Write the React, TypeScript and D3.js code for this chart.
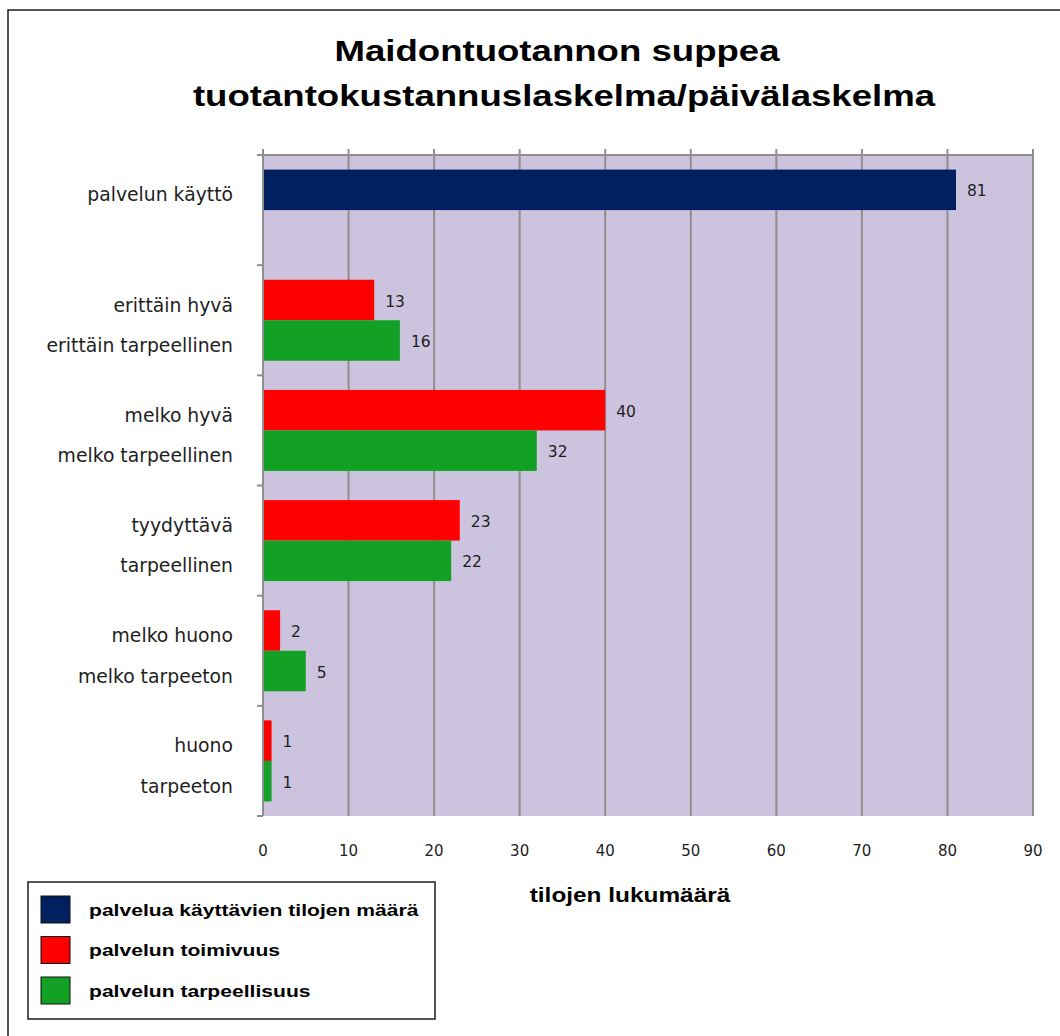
import React from "react";
import * as d3 from "d3";

const titleLines = ["Maidontuotannon suppea", "tuotantokustannuslaskelma/päivälaskelma"];
const topLabels = ["palvelun käyttö", "erittäin hyvä", "melko hyvä", "tyydyttävä", "melko huono", "huono"];
const bottomLabels = ["", "erittäin tarpeellinen", "melko tarpeellinen", "tarpeellinen", "melko tarpeeton", "tarpeeton"];
const kayttoValues: (number | null)[] = [81, null, null, null, null, null];
const toimivuusValues: (number | null)[] = [null, 13, 40, 23, 2, 1];
const tarpeellisuusValues: (number | null)[] = [null, 16, 32, 22, 5, 1];
const xTicks = [0, 10, 20, 30, 40, 50, 60, 70, 80, 90];
const axisTitle = "tilojen lukumäärä";
const legendNames = ["palvelua käyttävien tilojen määrä", "palvelun toimivuus", "palvelun tarpeellisuus"];
const seriesColors = ["#002060", "#ff0000", "#12a025"];

const W = 1060;
const H = 1036;
const SX = 1.22;
const PLOT = { left: 263, right: 1033, top: 155, bottom: 816 };
const GRID = "#8f8f8f";
const TXT = "#1e1e1e";
const SANS = "'DejaVu Sans', Verdana, sans-serif";
const ARIAL = "'Liberation Sans', Arial, sans-serif";

export default function App() {
  const x = d3.scaleLinear().domain([0, 90]).range([PLOT.left, PLOT.right]);
  const groups = d3.range(topLabels.length);
  const yGroup = d3.scaleBand<number>().domain(groups).range([PLOT.top, PLOT.bottom]).padding(0);
  const slot = d3
    .scaleBand<number>()
    .domain([0, 1])
    .range([0, yGroup.bandwidth()])
    .paddingInner(0)
    .paddingOuter(0.36);
  const bh = slot.bandwidth();

  type Bar = { g: number; s: number; v: number; color: string };
  const bars: Bar[] = [];
  groups.forEach((g) => {
    if (kayttoValues[g] != null) bars.push({ g, s: 0, v: kayttoValues[g] as number, color: seriesColors[0] });
    if (toimivuusValues[g] != null) bars.push({ g, s: 0, v: toimivuusValues[g] as number, color: seriesColors[1] });
    if (tarpeellisuusValues[g] != null) bars.push({ g, s: 1, v: tarpeellisuusValues[g] as number, color: seriesColors[2] });
  });
  const barY = (g: number, s: number) => (yGroup(g) as number) + (slot(s) as number);

  const boundaries = groups.map((g) => yGroup(g) as number).concat([PLOT.bottom]);

  return (
    <svg
      width={W}
      height={H}
      style={{ position: "absolute", left: 0, top: 0, background: "#fff" }}
    >
      <rect x={8} y={10} width={W + 20} height={H + 20} fill="#fff" stroke="#2a2a2a" strokeWidth={1.6} />

      {titleLines.map((t, i) => (
        <text
          key={i}
          transform={`translate(${i === 0 ? 557 : 564},${i === 0 ? 61 : 106}) scale(${SX},1)`}
          textAnchor="middle"
          fontFamily={ARIAL}
          fontWeight="bold"
          fontSize={30}
          fill="#000"
        >
          {t}
        </text>
      ))}

      <rect
        x={PLOT.left}
        y={PLOT.top}
        width={PLOT.right - PLOT.left}
        height={PLOT.bottom - PLOT.top}
        fill="#ccc3df"
      />

      {xTicks.map((t) => (
        <line key={"g" + t} x1={x(t)} x2={x(t)} y1={PLOT.top - 6} y2={PLOT.bottom} stroke={GRID} strokeWidth={2} />
      ))}

      {bars.map((b, i) => (
        <rect
          key={"b" + i}
          x={x(0)}
          y={barY(b.g, b.s)}
          width={x(b.v) - x(0)}
          height={bh}
          fill={b.color}
        />
      ))}

      <line x1={PLOT.left - 6} x2={PLOT.right} y1={PLOT.top} y2={PLOT.top} stroke={GRID} strokeWidth={2} />
      <line x1={PLOT.left} x2={PLOT.left} y1={PLOT.top - 6} y2={PLOT.bottom} stroke={GRID} strokeWidth={2} />
      {boundaries.map((yy, i) => (
        <line key={"lt" + i} x1={PLOT.left - 6} x2={PLOT.left} y1={yy} y2={yy} stroke={GRID} strokeWidth={2} />
      ))}

      {bars.map((b, i) => (
        <text
          key={"dl" + i}
          x={x(b.v) + 11}
          y={barY(b.g, b.s) + bh / 2 + 1}
          dy="0.36em"
          fontFamily={SANS}
          fontSize={15.5}
          fill={TXT}
        >
          {b.v}
        </text>
      ))}

      {groups.map((g) => (
        <g key={"cl" + g}>
          <text
            x={233}
            y={barY(g, 0) + bh / 2 + 6}
            dy="0.3em"
            textAnchor="end"
            fontFamily={SANS}
            fontSize={18.8}
            fill={TXT}
          >
            {topLabels[g]}
          </text>
          {bottomLabels[g] && (
            <text
              x={233}
              y={barY(g, 1) + bh / 2 + 6}
              dy="0.3em"
              textAnchor="end"
              fontFamily={SANS}
              fontSize={18.8}
              fill={TXT}
            >
              {bottomLabels[g]}
            </text>
          )}
        </g>
      ))}

      {xTicks.map((t) => (
        <text
          key={"tl" + t}
          x={x(t)}
          y={856}
          textAnchor="middle"
          fontFamily={SANS}
          fontSize={15}
          fill={TXT}
        >
          {t}
        </text>
      ))}

      <text
        transform={`translate(630,902) scale(${SX},1)`}
        textAnchor="middle"
        fontFamily={ARIAL}
        fontWeight="bold"
        fontSize={20}
        fill="#000"
      >
        {axisTitle}
      </text>

      <rect x={28} y={882} width={407} height={137} fill="#fff" stroke="#2a2a2a" strokeWidth={1.6} />
      {legendNames.map((n, i) => {
        const cy = 909.5 + i * 40.5;
        return (
          <g key={"lg" + i}>
            <rect x={41} y={cy - 13.5} width={29} height={27} fill={seriesColors[i]} stroke="#111" strokeWidth={1} />
            <text
              transform={`translate(89,${cy + 6}) scale(${SX},1)`}
              fontFamily={ARIAL}
              fontWeight="bold"
              fontSize={17.3}
              fill="#000"
            >
              {n}
            </text>
          </g>
        );
      })}
    </svg>
  );
}
